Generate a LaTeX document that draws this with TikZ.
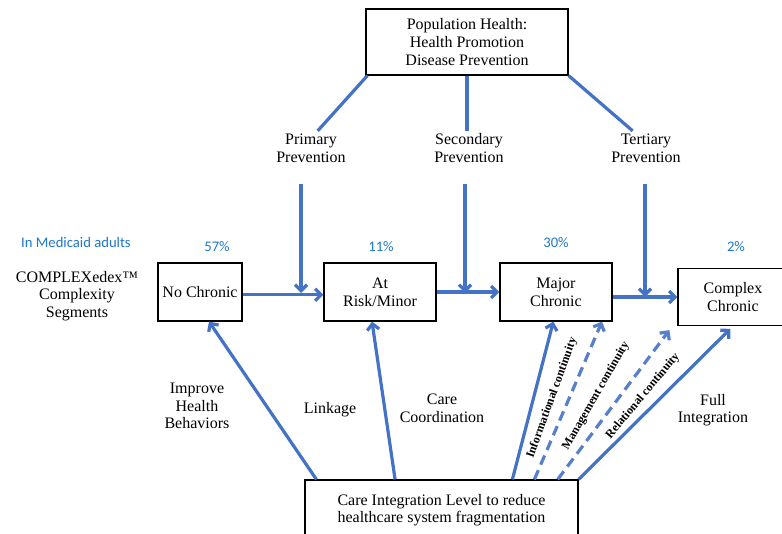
\documentclass[tikz,border=0pt]{standalone}
\usepackage{fontspec}
\setmainfont{Liberation Serif}
\newfontfamily\calibri{Carlito}
\usetikzlibrary{positioning}
\usetikzlibrary{arrows.meta}
\definecolor{flowblue}{RGB}{68,114,196}
\definecolor{pctblue}{RGB}{30,120,205}

\begin{document}
\begin{tikzpicture}[x=0.75pt,y=-0.75pt,
font=\fontsize{12}{13.2}\selectfont,
link/.style={draw=flowblue,line width=2.4pt},
arr/.style={link,-{Straight Barb[length=4.5pt,width=9pt]}},
dasharr/.style={arr,draw=flowblue!90,dash pattern=on 7.5pt off 4.5pt}
]
\tikzstyle{box} = [draw, line width=0.9pt, align=center, inner sep=2pt]
\tikzstyle{lbl} = [align=center, inner sep=2pt]
\tikzstyle{pct} = [text=pctblue, font=\calibri\fontsize{11}{13}\selectfont]
\tikzstyle{rot} = [font=\bfseries\fontsize{9}{10}\selectfont, inner sep=1pt]

\useasboundingbox (0,0) rectangle (782,534);
\clip (0,0) rectangle (782,534);

\node[box, minimum width=151.5pt, minimum height=49.5pt] (pop) at (467,42)
    {Population Health:\\Health Promotion\\Disease Prevention};

\node[lbl] (prim) at (311,148) {Primary\\Prevention};
\node[lbl] (sec)  at (469,148) {Secondary\\Prevention};
\node[lbl] (tert) at (646,148) {Tertiary\\Prevention};

% complexity segments
\node[box, minimum width=63pt, minimum height=43.5pt] (nochr) at (200,292) {No Chronic};
\node[box, minimum width=84pt, minimum height=43.5pt] (risk)  at (380,292) {At\\Risk/Minor};
\node[box, minimum width=84pt, minimum height=43.5pt] (major) at (556,292) {Major\\Chronic};
\node[box, minimum width=82.5pt, minimum height=42.75pt] (cplx) at (733,297) {Complex\\Chronic};

\node[lbl] (cdx) at (77,296) {COMPLEXedex™\\Complexity\\Segments};

\node[pct] (medi) at (76,242)  {In Medicaid adults};
\node[pct] (p57)  at (217,247) {57\%};
\node[pct] (p11)  at (381,247) {11\%};
\node[pct] (p30)  at (556,243) {30\%};
\node[pct] (p2)   at (736,247) {2\%};

\node[box, minimum width=204.75pt, minimum height=45pt] (cil) at (441.5,510)
    {Care Integration Level to reduce\\healthcare system fragmentation};

% prevention links
\draw[link] ([xshift=1.5pt]pop.south west) -- ([xshift=5pt]prim.north);
\draw[link] (pop.south) -- (pop.south |- sec.north);
\draw[link] (pop.south east) -- ([xshift=-10pt]tert.north);

\coordinate (ptop) at (301,184);
\coordinate (pbot) at (301,293);
\coordinate (stop) at (465,184);
\coordinate (sbot) at (465,293);
\coordinate (ttop) at (645,184);
\coordinate (tbot) at (645,297);
\draw[arr] (ptop) -- (pbot);
\draw[arr] (stop) -- (sbot);
\draw[arr] (ttop) -- (tbot);

\draw[arr] ([yshift=-2pt]nochr.east) -- ([yshift=-2pt]risk.west);
\draw[arr] (risk) -- (major);
\draw[arr] (major.east |- cplx.west) -- (cplx.west);

% integration arrows
\draw[arr] ([xshift=9pt]cil.north west) -- ([xshift=6.75pt]nochr.south);
\draw[arr] ([xshift=68pt]cil.north west) -- ([xshift=-6pt]risk.south);
\draw[arr] ([xshift=156pt]cil.north west) -- ([xshift=-2pt]major.south);
\draw[dasharr] ([xshift=172.5pt]cil.north west) -- ([xshift=34.5pt]major.south);
\draw[dasharr] ([xshift=190pt]cil.north west) -- ([xshift=-6pt,yshift=-3pt]cplx.south west);
\draw[arr] (cil.north east) -- ([xshift=-2pt,yshift=-2pt]cplx.south);

\node[lbl] (ihb)  at (197,406) {Improve\\Health\\Behaviors};
\node[lbl] (lnk)  at (330,410) {Linkage};
\node[lbl] (ccrd) at (442,408) {Care\\Coordination};
\node[lbl] (full) at (713,410) {Full\\Integration};

\node[rot, rotate=70] (info) at (552,398) {Informational continuity};
\node[rot, rotate=60] (mgmt) at (596,396) {Management continuity};
\node[rot, rotate=50] (rel)  at (643,396) {Relational continuity};
\end{tikzpicture}
\end{document}
